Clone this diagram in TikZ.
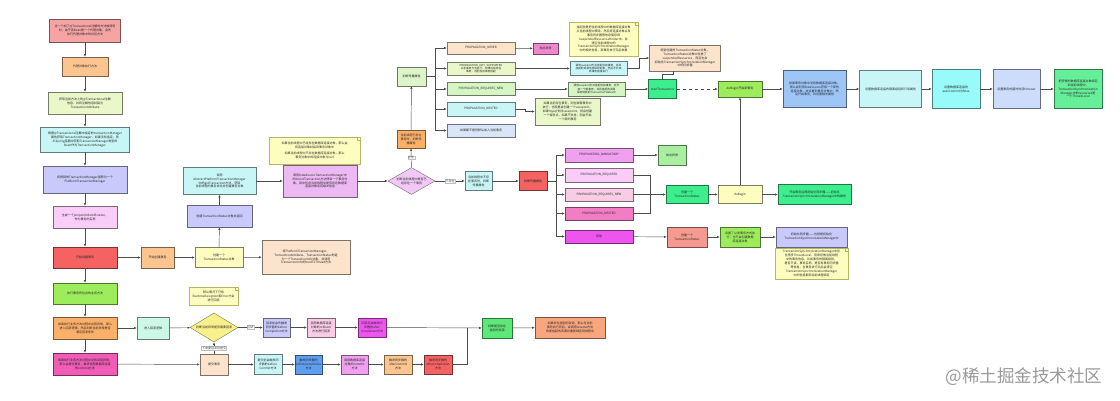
\documentclass[tikz,border=0pt]{standalone}
\usepackage{fontspec}
\setmainfont{Noto Sans CJK SC}
\usepackage{tikz}
\usetikzlibrary{arrows.meta,calc,positioning,shapes.geometric}
\definecolor{redfill}{HTML}{F5A3A3}
\definecolor{orangefill}{HTML}{FCC48F}
\definecolor{limefill}{HTML}{EAF7C9}
\definecolor{cyanfill}{HTML}{C8F6F6}
\definecolor{aqua}{HTML}{99FAFA}
\definecolor{lavfill}{HTML}{C9C9FB}
\definecolor{pinkfill}{HTML}{FACCF8}
\definecolor{hotred}{HTML}{F56262}
\definecolor{leaf}{HTML}{9CEC5C}
\definecolor{leaflight}{HTML}{A8F0A0}
\definecolor{deeporange}{HTML}{FBB06A}
\definecolor{rose}{HTML}{F05CB6}
\definecolor{roselight}{HTML}{F37DC5}
\definecolor{mint}{HTML}{CCF8E8}
\definecolor{notefill}{HTML}{FDFDC0}
\definecolor{noteline}{HTML}{B5B56A}
\definecolor{peach}{HTML}{FCE3CC}
\definecolor{orchid}{HTML}{EDB9F2}
\definecolor{orchidlight}{HTML}{F2C8F5}
\definecolor{sage}{HTML}{DDF3C8}
\definecolor{jade}{HTML}{3DEE8C}
\definecolor{jadeleaf}{HTML}{5EE87A}
\definecolor{seagreen}{HTML}{66EE99}
\definecolor{sky}{HTML}{9DC6F7}
\definecolor{ice}{HTML}{DAE6F8}
\definecolor{icelav}{HTML}{CCDCFA}
\definecolor{fuchsia}{HTML}{EE55EE}
\definecolor{mauve}{HTML}{EFA0EF}
\definecolor{blush}{HTML}{F8CCE4}
\definecolor{salmon}{HTML}{F59A8E}
\definecolor{salmonorange}{HTML}{F7A67E}
\definecolor{azure}{HTML}{5E9EEE}
\definecolor{palegreen}{HTML}{D5F5C5}
\definecolor{candy}{HTML}{EE88CC}
\definecolor{lemon}{HTML}{F8F08A}
\definecolor{watergray}{HTML}{9A9A9A}

\begin{document}
\begin{tikzpicture}[x=1pt,y=-1pt,>={Latex[length=2.6pt,width=2.2pt]},
  box/.style={draw,line width=0.4pt,align=center,inner sep=0.4pt,text=black!85,font=\fontsize{3}{3.9}\selectfont},
  small/.style={font=\fontsize{2.7}{3.3}\selectfont,inner sep=0.2pt},
  fc/.style={fill=#1,draw=#1!50!black},
  wire/.style={->,draw=black!70,line width=0.45pt},
  link/.style={draw=black!70,line width=0.45pt},
  lbl/.style={fill=white,draw=black!25,inner sep=0.5pt,text=black!70,font=\fontsize{3}{3.6}\selectfont},
  note/.style={box,fill=notefill,draw=noteline,path picture={\draw[noteline] ([xshift=-3pt]path picture bounding box.north east) |- ([yshift=-3pt]path picture bounding box.north east);}},
  dia/.style={box,diamond,aspect=1.75,inner sep=0pt}]
\useasboundingbox[fill=white] (0,0) rectangle (1120,400);

% main column
\node[box,fc=redfill,minimum width=71,minimum height=23] (b1) at (85,30.5) {当一个加了@Transactional注解的方法被调用\\时，由于该Bean是一个代理对象，会先\\执行代理对象中的对应方法};
\node[box,fc=orangefill,minimum width=46,minimum height=19] (b2) at (85,66.5) {代理对象执行方法};
\node[box,fc=limefill,minimum width=74,minimum height=22] (b3) at (85,103) {获取当前方法上的@Transactional注解\\信息，并将注解信息封装为\\TransactionAttribute};
\node[box,fc=cyanfill,minimum width=89,minimum height=25] (b4) at (85,139.5) {根据@Transactional注解中指定的transactionManager\\属性获取TransactionManager，如果没有指定，则\\从Spring容器中获取TransactionManager类型的\\Bean作为TransactionManager};
\node[box,fc=lavfill,minimum width=84,minimum height=27] (b5) at (85,179.5) {将得到的TransactionManager强转为一个\\PlatformTransactionManager};
\node[box,fc=pinkfill,minimum width=64,minimum height=22] (b6) at (85,217) {生成一个joinpointIdentification，\\作为事务的名称};
\node[box,fc=hotred,minimum width=64,minimum height=21] (b7) at (85,257.5) {开始创建事务};
\node[box,fc=leaf,minimum width=64,minimum height=21] (b8) at (85,293.5) {执行事务所包含的业务方法};
\node[box,fc=deeporange,minimum width=64,minimum height=22] (b9) at (85,328) {如果执行业务方法过程中出现异常，那么\\进入回滚逻辑，然后判断当前异常是否\\满足回滚条件};
\node[box,fc=rose,minimum width=64,minimum height=22] (b10) at (85,364) {如果执行业务方法过程中没有出现异常，\\那么会提交事务，最终调用数据库连接\\的commit方法};
\foreach \a/\b in {b1/b2,b2/b3,b3/b4,b4/b5,b5/b6,b6/b7,b7/b8,b8/b9,b9/b10}
  \draw[wire] (\a) -- (\b);

% creating the transaction
\node[box,fc=orangefill,minimum width=33,minimum height=21] (s1) at (157.5,257.5) {开始创建事务};
\node[box,fc=notefill,minimum width=48,minimum height=20] (s2) at (219,257.5) {创建一个\\TransactionStatus对象};
\node[box,fc=peach,minimum width=88,minimum height=34] (s3) at (306,257) {将PlatformTransactionManager、\\TransactionAttribute、TransactionStatus构造\\为一个TransactionInfo对象，并调用\\TransactionInfo的bindToThread方法};
\node[box,fc=lavfill,minimum width=65,minimum height=22] (s4) at (219.5,216) {创建TransactionStatus对象并返回};
\node[box,fc=cyanfill,minimum width=73,minimum height=27] (s5) at (219.5,181) {调用\\AbstractPlatformTransactionManager\\中的getTransaction方法，获取\\当前线程的事务状态并创建事务对象};
\node[note,minimum width=91,minimum height=27] (n1) at (314.5,150.5) {如果当前线程中已经存在数据库连接对象，那么会\\将连接对象封装到事务对象中\\[2pt]如果当前线程中不存在数据库连接对象，那么\\事务对象中的连接对象为null};
\node[box,fc=orchid,minimum width=74,minimum height=32] (s6) at (320,181) {调用DataSourceTransactionManager中\\的doGetTransaction方法得到一个事务对\\象，其中包含当前线程中是否存在数据库\\连接对象及其相关信息};
\node[dia,fc=orchidlight,minimum width=47,minimum height=27] (d1) at (411.5,181) {判断当前线程中是否已\\经存在一个事务};
\draw[wire] (b7) -- (s1);
\draw[wire] (s1) -- (s2);
\draw[wire] (s2) -- (s3);
\draw[wire] (s2) -- (s4);
\draw[wire] (s4) -- (s5);
\draw[wire] (s5) -- (s6);
\draw[wire] (s6) -- (d1);

% a transaction already exists
\node[box,fc=deeporange,minimum width=28,minimum height=18] (o1) at (411,139) {当前线程已存在\\事务时，判断传\\播属性};
\node[box,fc=sage,minimum width=29,minimum height=19] (g1) at (411.5,76.5) {判断传播属性};
\node[box,fc=peach,minimum width=68,minimum height=12.5] (p1) at (481,48) {PROPAGATION\_NEVER};
\node[box,small,fc=limefill,minimum width=68,minimum height=13] (p2) at (481,68.5) {PROPAGATION\_NOT\_SUPPORTED\\以非事务方式执行，如果当前存在\\事务，则把当前事务挂起};
\node[box,fc=palegreen,minimum width=68,minimum height=13] (p3) at (481,89) {PROPAGATION\_REQUIRES\_NEW};
\node[box,fc=cyanfill,minimum width=68,minimum height=14] (p4) at (481,109) {PROPAGATION\_NESTED};
\node[box,fc=ice,minimum width=68,minimum height=13] (p5) at (481,130.5) {如果都不是则默认加入当前事务};
\node[box,fc=candy,minimum width=25,minimum height=11] (e1) at (545.5,48.5) {抛出异常};
\node[box,small,fc=cyanfill,minimum width=57,minimum height=14] (c1) at (598.5,68.5) {调用suspend方法挂起当前事务，并将\\挂起的资源信息保存起来，然后不开启\\新事务直接执行};
\node[box,small,fc=palegreen,minimum width=57,minimum height=14] (c2) at (596.5,89) {调用suspend方法挂起当前事务，并开\\启一个新事务，并将挂起的资源\\保存到新的TransactionStatus中};
\node[box,fc=limefill,minimum width=65,minimum height=27] (gn1) at (567.5,111.5) {如果当前存在事务，则在嵌套事务中\\执行，也就是会创建一个savepoint，\\如果mysql支持savepoint，就会创建\\一个保存点，如果不支持，则会开启\\一个新的事务};
\node[note,minimum width=69,minimum height=34] (yn1) at (603.5,39) {挂起就是把当前线程中的数据库连接对象\\从当前线程中移除，然后将连接对象以及\\事务同步器等信息保存到\\SuspendedResourcesHolder中，并\\清空当前线程中的\\TransactionSynchronizationManager\\中的相关信息，新事务执行完后恢复};
\node[box,fc=peach,minimum width=71,minimum height=26] (pk1) at (685,58) {将新创建的TransactionStatus对象，\\TransactionStatus对象中存放了\\suspendedResources，而且也会\\初始化TransactionSynchronizationManager\\中的同步器};
\node[box,fc=jade,minimum width=28,minimum height=19] (bg1) at (662.5,89) {startTransaction};
\node[box,fc=leaf,minimum width=44,minimum height=16.5] (dg1) at (740,89) {doBegin开启新事务};
\node[box,fc=sky,minimum width=63,minimum height=37] (bl1) at (814.5,89) {如果事务对象中没有数据库连接对象，\\那么会利用DataSource获取一个新的\\连接对象，并设置到事务对象中，然\\后开启事务，并设置相关属性};
\node[box,fc=cyanfill,minimum width=62,minimum height=37] (cy2) at (890.5,89) {设置数据库连接的隔离级别和只读属性};
\node[box,fc=aqua,minimum width=48,minimum height=39] (cy3) at (956,89) {设置数据库连接的\\autoCommit为false};
\node[box,fc=icelav,minimum width=47,minimum height=39] (lv4) at (1016.5,89) {设置事务的超时时间timeout};
\node[box,fc=seagreen,minimum width=48,minimum height=39] (gr4) at (1078,89) {把获得的数据库连接对象绑定\\到当前线程中，\\TransactionSynchronization\\Manager中的resources是\\一个ThreadLocal};
\draw[wire] (d1) -- node[lbl]{存在} (o1);
\draw[wire] (o1) -- (g1);
\draw[link] (g1.east) -- ++(9,0) coordinate (gj);
\foreach \p in {p1,p2,p3,p4,p5}
  \draw[wire] (gj) |- (\p.west);
\draw[wire] (p1) -- (e1);
\draw[wire] (p2) -- (c1);
\draw[wire] (p3) -- (c2);
\draw[wire] (p4.east) -- ++(10,0) |- (gn1.west);
\draw[wire] (c1.east) -- ++(12,0) |- (pk1.west);
\draw[wire] (c2) -- (bg1);
\draw[link] (bg1.north) -- ++(0,-5) -| ([xshift=-12pt]pk1.south);
\draw[wire,dashed] (bg1) -- (dg1);
\draw[wire] (dg1) -- (bl1);
\draw[wire] (bl1) -- (cy2);
\draw[wire] (cy2) -- (cy3);
\draw[wire] (cy3) -- (lv4);
\draw[wire] (lv4) -- (gr4);

% no transaction yet
\node[box,fc=cyanfill,minimum width=27,minimum height=19] (cy4) at (478.5,181) {当前线程中不存\\在事务时，判断\\传播属性};
\node[box,fc=hotred,minimum width=28,minimum height=19] (rd1) at (533,181) {判断传播属性};
\node[box,fc=mauve,minimum width=68,minimum height=14] (m1) at (599,155) {PROPAGATION\_MANDATORY};
\node[box,fc=pinkfill,minimum width=68,minimum height=14] (m2) at (599,175) {PROPAGATION\_REQUIRED};
\node[box,fc=blush,minimum width=68,minimum height=13] (m3) at (599,194.5) {PROPAGATION\_REQUIRES\_NEW};
\node[box,fc=roselight,minimum width=68,minimum height=13] (m4) at (599,213.5) {PROPAGATION\_NESTED};
\node[box,fc=fuchsia,minimum width=68,minimum height=13] (m5) at (599,236.5) {其他};
\node[box,fc=leaflight,minimum width=28,minimum height=20] (e2) at (672,155) {抛出异常};
\node[box,fc=jade,minimum width=42,minimum height=18] (g2) at (687,194.5) {创建一个\\TransactionStatus};
\node[box,fc=notefill,minimum width=44,minimum height=18] (yb1) at (740,194.5) {doBegin};
\node[box,fc=jade,minimum width=73,minimum height=20] (g3) at (814.5,194.5) {开启事务后再初始化同步器——初始化\\TransactionSynchronizationManager中的属性};
\node[box,fc=salmon,minimum width=40,minimum height=20] (s7) at (687,237) {创建一个\\TransactionStatus};
\node[box,fc=leaf,minimum width=40,minimum height=20] (gy1) at (740,237) {设置了以非事务方式执\\行，也不会创建数据\\库连接对象};
\node[box,fc=lavfill,minimum width=71,minimum height=20] (lv2) at (811.5,237) {初始化同步器——也就是初始化\\TransactionSynchronizationManager中};
\node[note,minimum width=73,minimum height=31] (yn2) at (811.5,263.5) {TransactionSynchronizationManager中存\\在很多ThreadLocal，用来存放当前线程\\中的事务信息，比如事务的隔离级别、\\是否只读、事务名称、是否有事务同步器\\等信息，在事务执行完后会清空\\TransactionSynchronizationManager\\中的信息都和当前线程绑定};
\draw[wire] (d1) -- node[lbl]{不存在} (cy4);
\draw[wire] (cy4) -- (rd1);
\draw[link] (rd1.east) -- ++(9,0) coordinate (rj);
\foreach \m in {m1,m2,m3,m4,m5}
  \draw[wire] (rj) |- (\m.west);
\draw[wire] (m1) -- (e2);
\coordinate (mj) at (650,194.5);
\draw[link] (m2.east) -| (mj) (m4.east) -| (mj);
\draw[wire] (m3) -- (g2);
\draw[wire] (g2) -- (yb1);
\draw[wire] (yb1) -- (g3);
\draw[wire] (yb1) -- (dg1);
\draw[wire] (m5) -- (s7);
\draw[wire] (s7) -- (gy1);
\draw[wire] (gy1) -- (lv2);

% rollback and commit
\node[box,fc=mint,minimum width=32,minimum height=22] (mt1) at (153,328) {进入回滚逻辑};
\node[note,minimum width=49,minimum height=18] (ny1) at (213.5,296) {默认情况下只有\\RuntimeException和Error才会\\进行回滚};
\node[dia,fc=lemon,minimum width=48,minimum height=29] (dy1) at (214,327.5) {判断当前异常是否需要回滚};
\node[box,fc=lavfill,minimum width=27,minimum height=19] (lv3) at (276.5,327.5) {回滚前会先触发\\同步器的before\\Completion方法};
\node[box,fc=blush,minimum width=28,minimum height=19] (pk2) at (321,327.5) {调用数据库连接\\对象的rollback\\方法进行回滚};
\node[box,fc=fuchsia,minimum width=28,minimum height=19] (mg1) at (372,327.5) {回滚后会触发同\\步器的after\\Completion方法};
\node[box,fc=jadeleaf,minimum width=30,minimum height=20] (gn2) at (497,328) {判断是否存在\\挂起的资源};
\node[box,fc=salmonorange,minimum width=70,minimum height=21] (sm1) at (570,327.5) {如果存在挂起的资源，那么在当前\\事务执行完后，会调用resume方法\\恢复挂起的资源并重新绑定到线程中};
\node[box,fc=peach,minimum width=28,minimum height=21] (pc1) at (214,364.5) {提交事务};
\node[box,fc=cyanfill,minimum width=28,minimum height=20] (cy5) at (268,364.5) {提交前会触发同\\步器的before\\Commit方法};
\node[box,fc=azure,minimum width=27,minimum height=19] (bl2) at (308.5,364.5) {触发同步器的\\beforeCompletion\\方法};
\node[box,fc=mauve,minimum width=27,minimum height=19] (vi1) at (354.5,364.5) {调用数据库连接\\对象的commit\\方法};
\node[box,fc=orangefill,minimum width=28,minimum height=19] (pc2) at (398,364.5) {触发同步器的\\afterCommit\\方法};
\node[box,fc=hotred,minimum width=28,minimum height=19] (rd2) at (438,364.5) {触发同步器的\\afterCompletion\\方法};
\coordinate (jn) at (467,328);
\draw[wire] (b9) -- (mt1);
\draw[wire] (mt1) -- (dy1);
\draw[wire] (dy1) -- node[lbl]{回滚} (lv3);
\draw[wire] (lv3) -- (pk2);
\draw[wire] (pk2) -- (mg1);
\draw[wire] (mg1) -- (gn2);
\draw[wire] (gn2) -- (sm1);
\draw[wire] (b10) -- (pc1);
\draw[wire] (pc1) -- node[lbl]{不需要回滚就提交} (dy1);
\draw[wire] (pc1) -- (cy5);
\draw[wire] (cy5) -- (bl2);
\draw[wire] (bl2) -- (vi1);
\draw[wire] (vi1) -- (pc2);
\draw[wire] (pc2) -- (rd2);
\draw[link] (rd2.east) -| (jn);

\node[text=watergray,font=\fontsize{17.5}{17.5}\selectfont,anchor=east] (wm) at (1106,377) {@稀土掘金技术社区};
\end{tikzpicture}
\end{document}
